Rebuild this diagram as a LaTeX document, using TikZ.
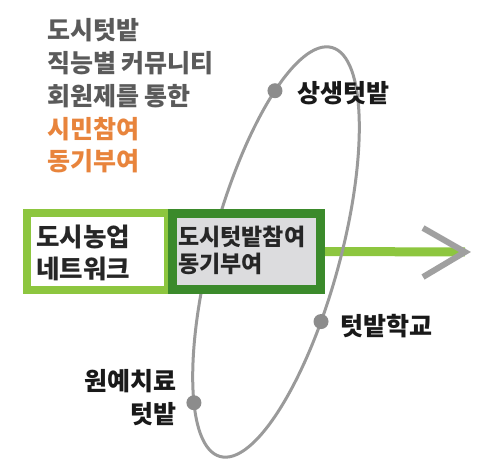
\documentclass[tikz,border=0pt]{standalone}
\usepackage{fontspec}
\setmainfont{Noto Sans CJK KR}
\definecolor{lgreen}{HTML}{8DC63F}
\definecolor{dgreen}{HTML}{3B8A2B}
\definecolor{boxgray}{HTML}{DCDCDE}
\definecolor{txtgray}{HTML}{5A5A5A}
\definecolor{orng}{HTML}{E8843C}
\definecolor{ellgray}{HTML}{9A9A9A}
\definecolor{dotgray}{HTML}{8C8C8C}
\definecolor{chevgray}{HTML}{A0A0A0}
\pgfdeclarelayer{bg}
\pgfdeclarelayer{mid}
\pgfsetlayers{bg,mid,main}
\begin{document}
\begin{tikzpicture}[x=1pt,y=-1pt,
  toptxt/.style={font=\fontsize{25}{30}\selectfont\bfseries, anchor=west, inner sep=0pt},
  boxtxt/.style={font=\fontsize{25.5}{30}\selectfont\bfseries, anchor=west, inner sep=0pt, text=black!85},
  boxtxtsmall/.style={font=\fontsize{23}{27}\selectfont\bfseries, anchor=west, inner sep=0pt, text=black!85},
  lbl/.style={font=\fontsize{25}{30}\selectfont\bfseries, inner sep=0pt, text=black!90},
  lbox/.style={draw=lgreen, line width=8pt, fill=white, minimum width=141pt, minimum height=77pt, inner sep=0pt},
  dbox/.style={draw=dgreen, line width=9pt, fill=boxgray, minimum width=148pt, minimum height=76pt, inner sep=0pt},
  arrowline/.style={draw=lgreen, line width=9pt},
  chev/.style={draw=chevgray, line width=6pt, miter limit=4},
  orbit/.style={draw=ellgray, line width=3pt},
  dotstyle/.style={circle, fill=dotgray, minimum size=15pt, inner sep=0pt}]
\useasboundingbox (0,0) rectangle (481,462);

% top-left texts
\node[toptxt, text=txtgray] (t1) at (47,30) {도시텃밭};
\node[toptxt, text=txtgray] (t2) at (47,63) {직능별 커뮤니티};
\node[toptxt, text=txtgray] (t3) at (47,96) {회원제를 통한};
\node[toptxt, text=orng] (t4) at (47,129) {시민참여};
\node[toptxt, text=orng] (t5) at (47,161) {동기부여};

% boxes
\node[lbox] (net) at (97.5,251.5) {};
\node[dbox] (mot) at (246.5,251.5) {};
\node[boxtxt] (n1) at (36,237) {도시농업};
\node[boxtxt] (n2) at (36,269) {네트워크};
\node[boxtxtsmall] (m1) at (178,237) {도시텃밭참여};
\node[boxtxtsmall] (m2) at (178,264) {동기부여};

% arrow
\coordinate (tip) at (465,252);
\coordinate (chevtop) at (423,228);
\coordinate (chevbot) at (423,277);
\begin{pgfonlayer}{bg}
\draw[arrowline] (mot.east) -- (tip);
\end{pgfonlayer}
\draw[chev] (chevtop) -- (tip) -- (chevbot);

% orbit ellipse and dots
\begin{scope}[shift={(276,252)}, rotate=-15.3]
\begin{pgfonlayer}{mid}
\draw[orbit] (0,0) ellipse [x radius=64pt, y radius=212pt];
\end{pgfonlayer}
\node[dotstyle] (d1) at ({64*cos(227.1)},{212*sin(227.1)}) {};
\node[dotstyle] (d2) at ({64*cos(15.1)},{212*sin(15.1)}) {};
\node[dotstyle] (d3) at ({64*cos(128)},{212*sin(128)}) {};
\end{scope}

% labels
\node[lbl, anchor=west] (l1) at (297,93) {상생텃밭};
\node[lbl, anchor=west] (l2) at (340,326) {텃밭학교};
\node[lbl, anchor=east] (l3) at (177,381) {원예치료};
\node[lbl, anchor=east] (l4) at (177,414) {텃밭};
\end{tikzpicture}
\end{document}
